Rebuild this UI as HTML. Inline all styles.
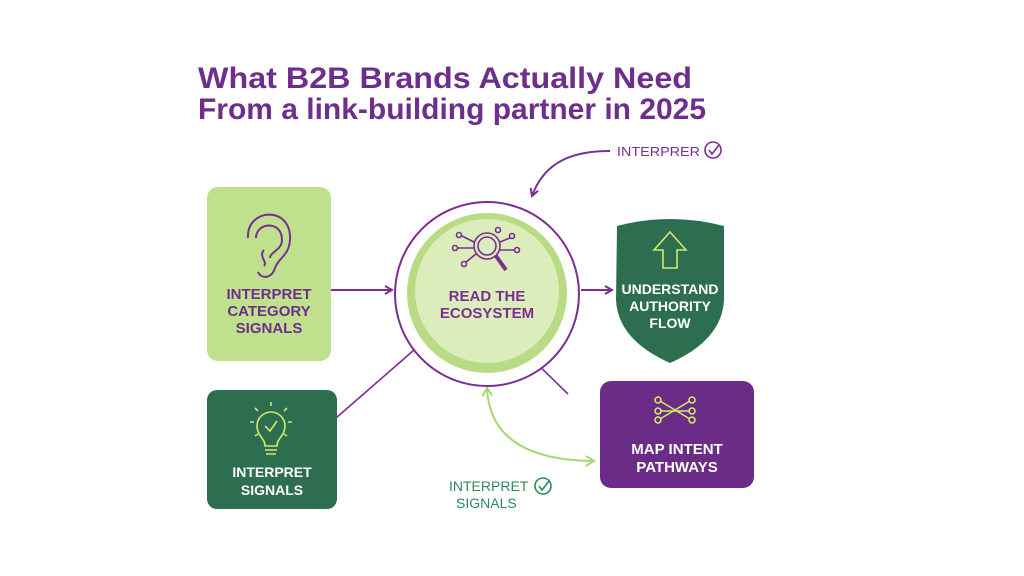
<!DOCTYPE html>
<html><head><meta charset="utf-8"><style>html,body{margin:0;padding:0;background:#fff}svg{display:block}</style></head>
<body>
<svg width="1024" height="576" viewBox="0 0 1024 576" xmlns="http://www.w3.org/2000/svg" font-family="Liberation Sans, sans-serif">
<defs>
<marker id="ap" markerWidth="10" markerHeight="10" refX="8" refY="5" orient="auto" markerUnits="userSpaceOnUse"><path d="M1 1 L8 5 L1 9" fill="none" stroke="#7a2e92" stroke-width="2"/></marker>
<marker id="ag" markerWidth="12" markerHeight="12" refX="9" refY="6" orient="auto-start-reverse" markerUnits="userSpaceOnUse"><path d="M1 1 L9 6 L1 11" fill="none" stroke="#a8d870" stroke-width="2"/></marker>
</defs>
<rect width="1024" height="576" fill="#fff"/>
<g fill="#6e2f8c" font-weight="bold" font-size="30">
<text x="198" y="88" textLength="494" lengthAdjust="spacingAndGlyphs">What B2B Brands Actually Need</text>
<text x="198" y="119" textLength="508" lengthAdjust="spacingAndGlyphs">From a link-building partner in 2025</text>
</g>
<!-- top annotation -->
<path d="M610 151 C575 151 545 160 532 196" fill="none" stroke="#7a2e92" stroke-width="2" marker-end="url(#ap)"/>
<text x="617" y="156" font-size="13" fill="#7a2e92" textLength="83" lengthAdjust="spacingAndGlyphs">INTERPRER</text>
<circle cx="713" cy="150" r="8" fill="none" stroke="#7a2e92" stroke-width="1.6"/>
<path d="M709 150 L712 154 L719 145" fill="none" stroke="#7a2e92" stroke-width="1.6"/>
<!-- connectors -->
<line x1="331" y1="290" x2="392" y2="290" stroke="#7a2e92" stroke-width="2" marker-end="url(#ap)"/>
<line x1="581" y1="290" x2="612" y2="290" stroke="#7a2e92" stroke-width="2" marker-end="url(#ap)"/>
<line x1="414" y1="350" x2="336" y2="418" stroke="#7a2e92" stroke-width="1.6"/>
<line x1="525" y1="352" x2="568" y2="394" stroke="#7a2e92" stroke-width="1.6"/>
<path d="M487 388 Q490 460 594 461" fill="none" stroke="#a8d870" stroke-width="2" marker-start="url(#ag)" marker-end="url(#ag)"/>
<!-- left box -->
<rect x="207" y="187" width="124" height="174" rx="11" fill="#bfe08c"/>
<g fill="none" stroke="#7a2e92" stroke-width="2">
<path d="M248 238 C246 208 292 205 290 240 C289 256 278 258 275 268 C272 278 262 280 258 272"/>
<path d="M256 238 C256 222 282 220 282 240 C282 250 270 252 270 258"/>
<path d="M264 250 C258 256 268 262 264 266"/>
</g>
<g fill="#6e2f8c" font-weight="bold" font-size="15" text-anchor="middle">
<text x="269" y="299">INTERPRET</text><text x="269" y="316">CATEGORY</text><text x="269" y="333">SIGNALS</text>
</g>
<!-- circle -->
<circle cx="487" cy="294" r="92" fill="#fff" stroke="#7a2e92" stroke-width="2"/>
<circle cx="487" cy="293" r="80" fill="#b9db85"/>
<circle cx="487" cy="291" r="72" fill="#dcedbc"/>
<g fill="none" stroke="#7a2e92" stroke-width="1.6">
<circle cx="487" cy="246" r="13"/><circle cx="487" cy="246" r="9"/>
<line x1="496" y1="256" x2="506" y2="270" stroke-width="4"/>
<path d="M474 242 L462 236 M474 248 L458 248 M476 254 L466 262 M500 242 L510 238 M500 250 L514 250"/>
<circle cx="459" cy="235" r="2.5"/><circle cx="455" cy="248" r="2.5"/><circle cx="464" cy="264" r="2.5"/><circle cx="512" cy="236" r="2.5"/><circle cx="517" cy="250" r="2.5"/><circle cx="498" cy="230" r="2.5"/>
</g>
<g fill="#7a2e92" font-weight="bold" font-size="15" text-anchor="middle">
<text x="487" y="301">READ THE</text><text x="487" y="318">ECOSYSTEM</text>
</g>
<!-- shield -->
<path d="M617 226 Q670 212 724 226 L724 300 Q722 340 670 363 Q618 340 616 300 Z" fill="#2e6e50"/>
<path d="M670 232 L686 250 L677 250 L677 268 L663 268 L663 250 L654 250 Z" fill="none" stroke="#d4e86a" stroke-width="1.6"/>
<g fill="#fff" font-weight="bold" font-size="14" text-anchor="middle">
<text x="670" y="294">UNDERSTAND</text><text x="670" y="311">AUTHORITY</text><text x="670" y="328">FLOW</text>
</g>
<!-- bottom-left box -->
<rect x="207" y="390" width="130" height="119" rx="10" fill="#2e6e50"/>
<g fill="none" stroke="#d4e86a" stroke-width="1.6">
<path d="M265 446 C265 438 257 436 257 426 A14 14 0 1 1 285 426 C285 436 277 438 277 446 Z"/>
<path d="M265 450 L277 450 M266 454 L276 454"/>
<path d="M265 426 L270 431 L277 421"/>
<path d="M271 402 L271 406 M255 408 L258 411 M287 408 L284 411 M250 422 L254 422 M292 422 L288 422 M255 436 L258 434 M287 436 L284 434"/>
</g>
<g fill="#fff" font-weight="bold" font-size="14" text-anchor="middle">
<text x="272" y="477">INTERPRET</text><text x="272" y="495">SIGNALS</text>
</g>
<!-- purple box -->
<rect x="600" y="381" width="154" height="107" rx="11" fill="#6a2c86"/>
<g fill="none" stroke="#d4e86a" stroke-width="1.6">
<path d="M660 401 L690 419 M660 419 L690 401 M660 411 L690 411"/>
<circle cx="658" cy="400" r="3"/><circle cx="658" cy="411" r="3"/><circle cx="658" cy="420" r="3"/>
<circle cx="692" cy="400" r="3"/><circle cx="692" cy="411" r="3"/><circle cx="692" cy="420" r="3"/>
</g>
<g fill="#fff" font-weight="bold" font-size="15" text-anchor="middle">
<text x="677" y="454">MAP INTENT</text><text x="677" y="472">PATHWAYS</text>
</g>
<!-- bottom annotation -->
<g fill="#2f8a5a" font-size="14">
<text x="449" y="491">INTERPRET</text><text x="456" y="508">SIGNALS</text>
</g>
<circle cx="543" cy="486" r="8" fill="none" stroke="#2f8a5a" stroke-width="1.6"/>
<path d="M539 486 L542 490 L549 481" fill="none" stroke="#2f8a5a" stroke-width="1.6"/>
</svg>
</body></html>
